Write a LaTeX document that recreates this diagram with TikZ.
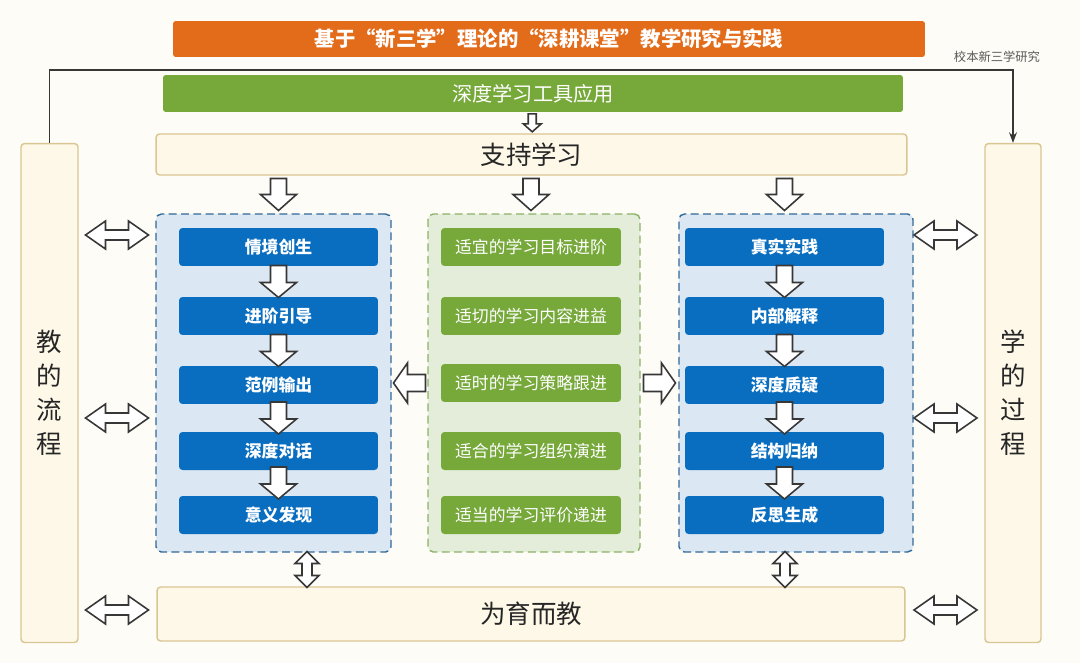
\documentclass[tikz,border=0pt]{standalone}
\usepackage{fontspec}
\setmainfont{Noto Sans CJK SC}
\usetikzlibrary{calc,arrows.meta}
\definecolor{bgcream}{RGB}{253,252,247}
\definecolor{titleorange}{RGB}{227,108,26}
\definecolor{toolgreen}{RGB}{118,168,58}
\definecolor{panelcream}{RGB}{254,248,232}
\definecolor{panelline}{RGB}{218,198,146}
\definecolor{stepblue}{RGB}{9,110,192}
\definecolor{zoneblue}{RGB}{219,231,243}
\definecolor{zoneblueline}{RGB}{48,104,152}
\definecolor{zonegreen}{RGB}{227,237,217}
\definecolor{zonegreenline}{RGB}{138,178,104}
\definecolor{arrowline}{RGB}{55,55,55}
\tikzset{
  banner/.style={fill=#1, text=white, rounded corners=1.5pt, inner sep=0pt},
  panel/.style={fill=panelcream, draw=panelline, line width=0.8pt, rounded corners=2pt, inner sep=0pt,
    font=\fontsize{14.5}{19.3}\selectfont, text=black!85},
  zone/.style={fill=zone#1, draw=zone#1line, dash pattern=on 4.5pt off 2.5pt, line width=0.8pt,
    rounded corners=3pt, minimum height=6.76cm},
  stepbox/.style={fill=stepblue, text=white, rounded corners=2pt, minimum width=3.98cm,
    minimum height=0.76cm, inner sep=0pt, font=\fontsize{9.6}{11}\selectfont\bfseries},
  aimbox/.style={fill=toolgreen, text=white, rounded corners=2pt, minimum width=3.6cm,
    minimum height=0.76cm, inner sep=0pt, font=\fontsize{9.6}{11}\selectfont},
  hollow/.style={draw=arrowline, fill=white, line width=0.9pt, line join=miter},
  % hollow block arrow pointing down: length, head width, shaft width, head length
  pics/darrow/.style n args={4}{code={
    \draw[hollow] (-#3/2,-#1/2) -- (#3/2,-#1/2) -- (#3/2,#1/2-#4) -- (#2/2,#1/2-#4) -- (0,#1/2)
      -- (-#2/2,#1/2-#4) -- (-#3/2,#1/2-#4) -- cycle;}},
  % hollow double arrow, horizontal
  pics/dblarrow/.style n args={4}{code={
    \draw[hollow] (-#1/2,0) -- (-#1/2+#4,-#2/2) -- (-#1/2+#4,-#3/2) -- (#1/2-#4,-#3/2) -- (#1/2-#4,-#2/2)
      -- (#1/2,0) -- (#1/2-#4,#2/2) -- (#1/2-#4,#3/2) -- (-#1/2+#4,#3/2) -- (-#1/2+#4,#2/2) -- cycle;}},
}
\begin{document}
\begin{tikzpicture}[x=0.02cm,y=-0.02cm]
\fill[bgcream] (0,0) rectangle (1080,663);
\useasboundingbox (0,0) rectangle (1080,663);
% headers
\node[banner=titleorange, minimum width=15.04cm, minimum height=0.72cm,
  font=\fontsize{11.6}{13}\selectfont\bfseries] (title) at (549,39) {基于“新三学”理论的“深耕课堂”教学研究与实践};
\node[banner=toolgreen, minimum width=14.8cm, minimum height=0.74cm,
  font=\fontsize{11.5}{13}\selectfont] (tool) at (533,93.5) {深度学习工具应用};
\node[panel, minimum width=15.02cm, minimum height=0.82cm] (support) at (531.5,154.5) {支持学习};
\node[panel, minimum width=14.96cm, minimum height=1.08cm] (goal) at (531,614) {为育而教};
% side columns
\node[panel, minimum width=1.14cm, minimum height=9.98cm, align=center] (teach) at (49.5,393) {教\\的\\流\\程};
\node[panel, minimum width=1.12cm, minimum height=9.98cm, align=center] (learn) at (1013,393) {学\\的\\过\\程};
% three zones
\node[zone=blue, minimum width=4.7cm] (lzone) at (273.5,383) {};
\node[zone=green, minimum width=4.24cm] (mzone) at (534,383) {};
\node[zone=blue, minimum width=4.68cm] (rzone) at (796,383) {};
\foreach \i/\y/\t in {1/247/情境创生,2/316/进阶引导,3/385/范例输出,4/451/深度对话,5/515/意义发现}
  \node[stepbox] (l\i) at (278.5,\y) {\t};
\foreach \i/\y/\t in {1/247/适宜的学习目标进阶,2/316/适切的学习内容进益,3/383/适时的学习策略跟进,4/451/适合的学习组织演进,5/515/适当的学习评价递进}
  \node[aimbox] (m\i) at (531,\y) {\t};
\foreach \i/\y/\t in {1/247/真实实践,2/316/内部解释,3/385/深度质疑,4/451/结构归纳,5/515/反思生成}
  \node[stepbox] (r\i) at (784.5,\y) {\t};
% research loop
\coordinate (bend) at (0,70);
\draw[arrowline, line width=0.7pt, -{Stealth[length=6pt,width=4.5pt]}] (teach.north) |- (bend -| learn.north) -- (learn.north);
\node[font=\fontsize{7}{8}\selectfont, text=black!65] (loop) at (997,57) {校本新三学研究};
% hollow arrows
\pic at ($(tool.south)!.5!(support.north)$) {darrow={18}{18}{8}{8}};
\foreach \c in {l1,m1,r1}
  \pic at ($(\c |- support.south)!.5!(\c |- lzone.north)$) {darrow={32}{36}{16}{16}};
\foreach \a/\b in {l1/l2,l2/l3,l3/l4,l4/l5,r1/r2,r2/r3,r3/r4,r4/r5}
  \pic at ($(\a.south)!.5!(\b.north)$) {darrow={32}{36}{16}{15}};
\pic[rotate=-90] at ($(lzone.east |- m3)!.5!(mzone.west |- m3)$) {darrow={32}{40}{17}{14}};
\pic[rotate=90] at ($(mzone.east |- m3)!.5!(rzone.west |- m3)$) {darrow={32}{40}{17}{14}};
\foreach \y in {235,418,610}{
  \pic at (117,\y) {dblarrow={63}{28}{10}{20}};
  \pic at (945.5,\y) {dblarrow={63}{28}{10}{20}};}
\pic[rotate=90] at (307,569.5) {dblarrow={36}{24}{10}{12}};
\pic[rotate=90] at (785,569.5) {dblarrow={36}{24}{10}{12}};
\end{tikzpicture}
\end{document}
